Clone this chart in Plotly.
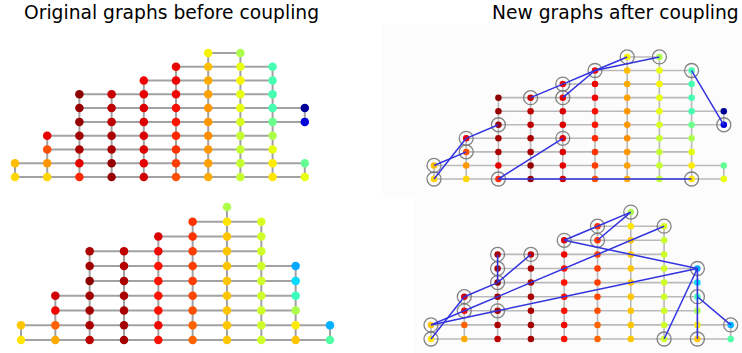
import plotly.graph_objects as go

W, H = 742, 353

# ---------------------------------------------------------------- data
# Occupied grid rows in each column (column 0..9, row 0 = bottom)
top_rows = [
    [0, 1],
    [0, 1, 2, 3],
    [0, 1, 2, 3, 4, 5, 6],
    [0, 1, 2, 3, 4, 5, 6],
    [0, 1, 2, 3, 4, 5, 6, 7],
    [0, 1, 2, 3, 4, 5, 6, 7, 8],
    [0, 1, 2, 3, 4, 5, 6, 7, 8, 9],
    [0, 1, 2, 3, 4, 5, 6, 7, 8, 9],
    [0, 1, 2, 3, 4, 5, 6, 7, 8],
    [0, 1, 4, 5],
]
bottom_rows = [
    [0, 1],
    [0, 1, 2, 3],
    [0, 1, 2, 3, 4, 5, 6],
    [0, 1, 2, 3, 4, 5, 6],
    [0, 1, 2, 3, 4, 5, 6, 7],
    [0, 1, 2, 3, 4, 5, 6, 7, 8],
    [0, 1, 2, 3, 4, 5, 6, 7, 8, 9],
    [0, 1, 2, 3, 4, 5, 6, 7, 8],
    [0, 1, 2, 3, 4, 5],
    [0, 1],
]

# Node values (jet colour scale, 0..1), listed column by column, bottom to top
top_values = [
    [0.683, 0.709],
    [0.683, 0.75, 0.826, 0.912],
    [0.868, 0.912, 0.963, 0.97, 0.98, 0.98, 0.99],
    [0.98, 0.98, 0.963, 0.963, 0.946, 0.946, 0.937],
    [0.93, 0.912, 0.92, 0.92, 0.92, 0.92, 0.912, 0.905],
    [0.826, 0.846, 0.857, 0.868, 0.889, 0.895, 0.903, 0.905, 0.905],
    [0.73, 0.74, 0.75, 0.76, 0.75, 0.75, 0.74, 0.73, 0.709, 0.65],
    [0.59, 0.59, 0.59, 0.59, 0.61, 0.63, 0.63, 0.65, 0.63, 0.557],
    [0.667, 0.66, 0.63, 0.557, 0.48, 0.435, 0.435, 0.435, 0.435],
    [0.63, 0.47, 0.08, 0.02],
]
bottom_values = [
    [0.667, 0.70],
    [0.73, 0.805, 0.903, 0.93],
    [0.946, 0.963, 0.97, 0.97, 0.99, 0.97, 0.963],
    [0.97, 0.97, 0.963, 0.963, 0.963, 0.955, 0.946],
    [0.893, 0.903, 0.893, 0.89, 0.89, 0.89, 0.903, 0.92],
    [0.805, 0.805, 0.826, 0.836, 0.846, 0.846, 0.846, 0.857, 0.857],
    [0.70, 0.70, 0.70, 0.70, 0.70, 0.70, 0.70, 0.70, 0.667, 0.56],
    [0.60, 0.60, 0.60, 0.60, 0.60, 0.60, 0.60, 0.60, 0.61],
    [0.70, 0.66, 0.557, 0.42, 0.34, 0.29],
    [0.45, 0.30],
]

# Coupled node pairs, as ((col, row), (col, row))
top_pairs = [
    ((0, 1), (1, 2)), ((0, 0), (1, 3)), ((1, 3), (2, 4)),
    ((2, 0), (4, 3)), ((2, 0), (8, 0)), ((3, 6), (4, 7)),
    ((4, 7), (5, 8)), ((4, 6), (5, 8)), ((5, 8), (6, 9)),
    ((5, 8), (7, 9)), ((8, 8), (9, 4)),
]
bottom_pairs = [
    ((0, 0), (1, 3)), ((0, 1), (1, 2)), ((0, 1), (2, 2)),
    ((2, 2), (8, 5)), ((1, 3), (2, 4)), ((2, 4), (3, 6)),
    ((2, 4), (2, 5)), ((2, 5), (2, 6)), ((1, 2), (7, 8)),
    ((4, 7), (5, 8)), ((4, 7), (8, 5)), ((5, 8), (6, 9)),
    ((5, 7), (6, 9)), ((8, 5), (7, 0)), ((8, 5), (8, 3)),
    ((8, 3), (8, 0)), ((8, 3), (9, 1)),
]

titles = ["Original graphs before coupling", "New graphs after coupling"]


# ---------------------------------------------------------------- helpers
def jet_colorscale():
    red = [(0, 0), (0.35, 0), (0.66, 1), (0.89, 1), (1, 0.5)]
    green = [(0, 0), (0.125, 0), (0.375, 1), (0.64, 1), (0.91, 0), (1, 0)]
    blue = [(0, 0.5), (0.11, 1), (0.34, 1), (0.65, 0), (1, 0)]

    def interp(pts, t):
        for (a, va), (b, vb) in zip(pts, pts[1:]):
            if a <= t <= b:
                return va + (vb - va) * (t - a) / (b - a)
        return pts[-1][1]

    stops = sorted({p[0] for p in red + green + blue})
    return [[t, "rgb(%d,%d,%d)" % tuple(round(255 * interp(c, t)) for c in (red, green, blue))]
            for t in stops]


JET = jet_colorscale()


def grid_edges(rows):
    occupied = {(c, r) for c, rr in enumerate(rows) for r in rr}
    xs, ys = [], []
    for c, r in sorted(occupied):
        for nb in ((c + 1, r), (c, r + 1)):
            if nb in occupied:
                xs += [c, nb[0], None]
                ys += [r, nb[1], None]
    return xs, ys


def axis_domains(x0, dx, y0, dy, xr, yr):
    """Domains (paper fractions) placing column 0 at pixel x0 and row 0 at pixel y0."""
    left, right = x0 + dx * xr[0], x0 + dx * xr[1]
    bottom, top = y0 - dy * yr[0], y0 - dy * yr[1]
    return [left / W, right / W], [(H - bottom) / H, (H - top) / H]


fig = go.Figure()

panels = [
    # rows, values, pairs, axis index, pixel anchors, styling
    dict(rows=top_rows, vals=top_values, pairs=None, k=1,
         x0=15, dx=32.2, y0=177, dy=13.78, node=8.5, edge=2.0, ecol="#a2a2a2"),
    dict(rows=bottom_rows, vals=bottom_values, pairs=None, k=2,
         x0=21, dx=34.33, y0=340, dy=14.78, node=8.5, edge=2.0, ecol="#a2a2a2"),
    dict(rows=top_rows, vals=top_values, pairs=top_pairs, k=3,
         x0=434, dx=32.2, y0=179, dy=13.56, node=6.5, edge=1.6, ecol="#bababa"),
    dict(rows=bottom_rows, vals=bottom_values, pairs=bottom_pairs, k=4,
         x0=431, dx=33.3, y0=339, dy=14.1, node=6.5, edge=1.6, ecol="#bababa"),
]

XR, YR = (-0.3, 9.3), (-0.5, 9.5)

for p in panels:
    k = p["k"]
    xa, ya = ("x", "y") if k == 1 else ("x%d" % k, "y%d" % k)
    xd, yd = axis_domains(p["x0"], p["dx"], p["y0"], p["dy"], XR, YR)
    ax_common = dict(visible=False, fixedrange=True, showgrid=False, zeroline=False)
    fig.layout["xaxis" if k == 1 else "xaxis%d" % k] = dict(
        domain=xd, range=list(XR), anchor=ya, **ax_common)
    fig.layout["yaxis" if k == 1 else "yaxis%d" % k] = dict(
        domain=yd, range=list(YR), anchor=xa, **ax_common)

    # grid edges
    ex, ey = grid_edges(p["rows"])
    fig.add_trace(go.Scatter(x=ex, y=ey, mode="lines", xaxis=xa, yaxis=ya,
                             line=dict(color=p["ecol"], width=p["edge"]),
                             hoverinfo="skip", cliponaxis=False, showlegend=False))

    # nodes
    nx, ny, nv = [], [], []
    for c, (rr, vv) in enumerate(zip(p["rows"], p["vals"])):
        for r, v in zip(rr, vv):
            nx.append(c)
            ny.append(r)
            nv.append(v)
    fig.add_trace(go.Scatter(x=nx, y=ny, mode="markers", xaxis=xa, yaxis=ya,
                             marker=dict(size=p["node"], color=nv, colorscale=JET,
                                         cmin=0, cmax=1, line=dict(width=0)),
                             cliponaxis=False, showlegend=False))

    if p["pairs"]:
        # rings round coupled nodes
        ringed = sorted({n for pair in p["pairs"] for n in pair})
        fig.add_trace(go.Scatter(x=[n[0] for n in ringed], y=[n[1] for n in ringed],
                                 mode="markers", xaxis=xa, yaxis=ya,
                                 marker=dict(size=14, color="rgba(0,0,0,0)",
                                             line=dict(color="rgba(110,110,110,0.85)", width=1.3)),
                                 cliponaxis=False, showlegend=False, hoverinfo="skip"))
        # coupling links
        lx, ly = [], []
        for a, b in p["pairs"]:
            lx += [a[0], b[0], None]
            ly += [a[1], b[1], None]
        fig.add_trace(go.Scatter(x=lx, y=ly, mode="lines", xaxis=xa, yaxis=ya,
                                 line=dict(color="rgb(50,50,225)", width=1.5),
                                 hoverinfo="skip", cliponaxis=False, showlegend=False))

# faint backdrop behind the coupled graphs
fig.add_shape(type="rect", xref="paper", yref="paper", layer="below",
              x0=383 / W, x1=1, y0=(H - 197) / H, y1=(H - 24) / H,
              fillcolor="#fcfcfc", line=dict(width=0))
fig.add_shape(type="rect", xref="paper", yref="paper", layer="below",
              x0=413 / W, x1=1, y0=0, y1=(H - 197) / H,
              fillcolor="#fcfcfc", line=dict(width=0))

for text, cx in zip(titles, (171.5, 615)):
    fig.add_annotation(text=text, x=cx / W, y=(H - 12) / H, xref="paper", yref="paper",
                       xanchor="center", yanchor="middle", showarrow=False,
                       font=dict(family="DejaVu Sans", size=18.7, color="black"))

fig.update_layout(width=W, height=H, margin=dict(l=0, r=0, t=0, b=0),
                  paper_bgcolor="white", plot_bgcolor="rgba(0,0,0,0)")

fig.write_html("out.html")
